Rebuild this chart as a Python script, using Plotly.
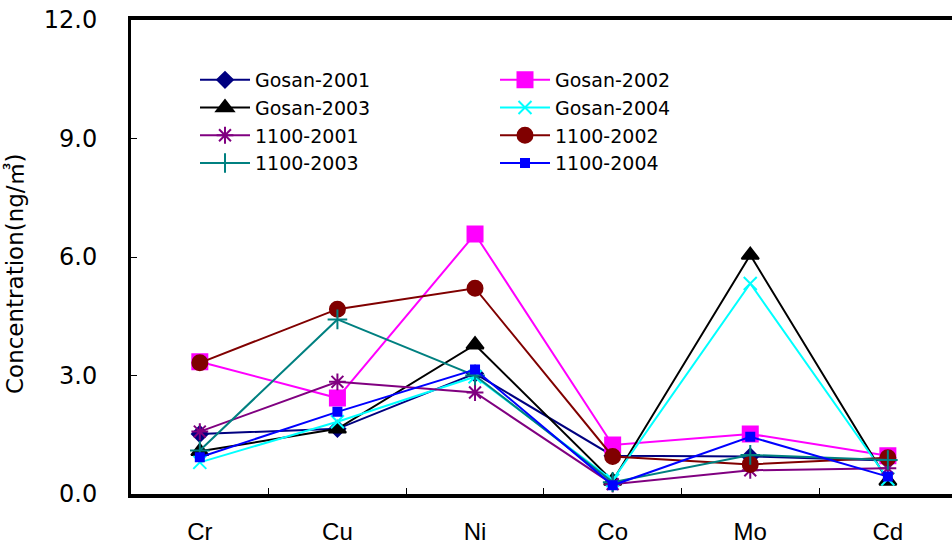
import plotly.graph_objects as go

categories = ["Cr", "Cu", "Ni", "Co", "Mo", "Cd"]

gosan_2001 = [1.52, 1.65, 3.05, 0.97, 0.95, 0.85]
gosan_2002 = [3.35, 2.43, 6.58, 1.24, 1.52, 0.97]
gosan_2003 = [1.08, 1.65, 3.78, 0.33, 6.05, 0.33]
gosan_2004 = [0.80, 1.83, 2.97, 0.35, 5.33, 0.38]
h1100_2001 = [1.58, 2.84, 2.57, 0.25, 0.60, 0.65]
h1100_2002 = [3.32, 4.68, 5.21, 0.95, 0.75, 0.92]
h1100_2003 = [1.10, 4.42, 3.00, 0.30, 0.99, 0.86]
h1100_2004 = [0.93, 2.08, 3.15, 0.22, 1.45, 0.44]

y_ticks = [0, 3, 6, 9, 12]

series = [
    ("Gosan-2001", gosan_2001, "#000080", "diamond", 12, "legend"),
    ("Gosan-2002", gosan_2002, "#FF00FF", "square", 15, "legend2"),
    ("Gosan-2003", gosan_2003, "#000000", "triangle-up", 15, "legend"),
    ("Gosan-2004", gosan_2004, "#00FFFF", "x-thin-open", 13, "legend2"),
    ("1100-2001", h1100_2001, "#800080", "asterisk-open", 14, "legend"),
    ("1100-2002", h1100_2002, "#800000", "circle", 15, "legend2"),
    ("1100-2003", h1100_2003, "#008080", "cross-thin-open", 14, "legend"),
    ("1100-2004", h1100_2004, "#0000FF", "square", 8, "legend2"),
]

fig = go.Figure()
for name, vals, color, sym, size, leg in series:
    fig.add_trace(go.Scatter(
        x=categories, y=vals, name=name, mode="lines+markers",
        line=dict(color=color, width=2),
        marker=dict(symbol=sym, size=size, color=color,
                    line=dict(color=color, width=2)),
        legend=leg, legendgroup=name,
    ))

L, T, B = 131, 20, 53
PW, PH = 952 - L, 547 - T - B

legend_common = dict(
    bgcolor="rgba(0,0,0,0)", borderwidth=0,
    font=dict(family="DejaVu Sans, Liberation Sans, Arial", size=19, color="#000"),
    itemwidth=50, tracegroupgap=0,
    xref="paper", yref="paper", xanchor="left", yanchor="top",
)

fig.update_layout(
    width=952, height=547,
    margin=dict(l=L, r=0, t=T, b=B, autoexpand=False),
    paper_bgcolor="white", plot_bgcolor="white",
    showlegend=True,
    legend=dict(x=(195 - L) / PW, y=(494 - 61) / PH, **legend_common),
    legend2=dict(x=(495 - L) / PW, y=(494 - 61) / PH, **legend_common),
    xaxis=dict(
        type="category", range=[-0.5, 5.466], automargin=False,
        showline=True, linecolor="#000", linewidth=4, mirror=True,
        showgrid=False, zeroline=False,
        ticks="inside", ticklen=6, tickwidth=1, tickcolor="#000",
        tickson="boundaries", tickangle=0,
        tickfont=dict(family="Liberation Sans Narrow, Liberation Sans, Arial", size=24, color="#000"),
        ticklabelstandoff=13,
    ),
    yaxis=dict(
        range=[0, 12], tickvals=y_ticks, tickformat=".1f", automargin=False,
        showline=True, linecolor="#000", linewidth=3, mirror=False,
        showgrid=False, zeroline=False,
        ticks="inside", ticklen=6, tickwidth=1, tickcolor="#000",
        tickfont=dict(family="DejaVu Sans, Liberation Sans, Arial", size=24, color="#000"),
        ticklabelstandoff=26,
    ),
    annotations=[dict(
        text="Concentration(ng/㎥)", textangle=-90,
        xref="paper", yref="paper", x=(15 - L) / PW, y=(494 - 274) / PH,
        xanchor="center", yanchor="middle", showarrow=False,
        font=dict(family="DejaVu Sans, Noto Sans CJK KR, Arial", size=23, color="#000"),
    )],
)

fig.write_html("out.html")
